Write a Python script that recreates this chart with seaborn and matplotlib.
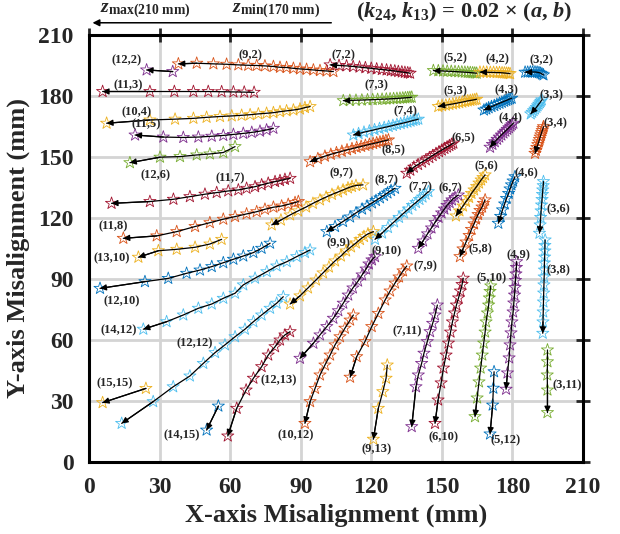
import matplotlib
matplotlib.use("Agg")
import matplotlib.pyplot as plt
import seaborn as sns
import pandas as pd

# MATLAB-style line colours used for the trajectories
BLUE, ORANGE, YELLOW, PURPLE = "#0072BD", "#D95319", "#EDB120", "#7E2F8E"
GREEN, CYAN, CRIMSON = "#77AC30", "#4DBEEE", "#A2142F"

# Misalignment paths (mm) for (k24, k13) = 0.02 x (a, b); first point is z = 170 mm, last is z = 210 mm
X12_2 = [35.6, 24.5]
Y12_2 = [192.0, 192.8]
X9_2 = [103.9, 101.0, 98.2, 95.4, 92.5, 89.7, 86.9, 84.0, 81.2, 78.4, 74.8, 71.3, 67.7, 63.5, 58.5, 52.9, 45.8, 38.0]
Y9_2 = [192.0, 192.3, 192.5, 192.8, 193.1, 193.3, 193.6, 194.0, 194.1, 194.5, 194.8, 195.0, 195.1, 195.3, 195.6, 195.8, 196.1, 195.8]
X7_2 = [136.5, 135.5, 134.3, 133.0, 131.5, 130.0, 128.3, 126.5, 124.5, 122.3, 120.0, 117.5, 115.0, 112.3, 109.5, 106.3, 102.5]
Y7_2 = [191.2, 191.4, 191.6, 191.8, 192.0, 192.3, 192.5, 192.8, 193.0, 193.3, 193.6, 193.9, 194.2, 194.5, 194.8, 195.0, 195.3]
X5_2 = [164.8, 164.0, 163.1, 162.1, 161.0, 159.8, 158.5, 157.1, 155.6, 154.0, 152.3, 150.5, 148.5, 146.4]
Y5_2 = [191.2, 191.3, 191.4, 191.5, 191.6, 191.7, 191.8, 191.9, 192.0, 192.1, 192.2, 192.3, 192.4, 192.5]
X4_2 = [179.0, 178.3, 177.5, 176.6, 175.6, 174.5, 173.3, 172.0, 170.6, 169.1, 167.7, 166.2]
Y4_2 = [191.0, 191.1, 191.2, 191.3, 191.4, 191.5, 191.5, 191.6, 191.6, 191.7, 191.7, 191.7]
X3_2 = [193.2, 192.6, 192.0, 191.3, 190.5, 189.6, 188.6, 187.6, 186.5, 185.4]
Y3_2 = [190.4, 190.8, 191.2, 191.5, 191.7, 191.8, 191.8, 191.8, 191.7, 191.7]

X11_3 = [70.2, 66.0, 61.4, 56.4, 50.7, 44.4, 36.3, 25.9, 5.8]
Y11_3 = [181.8, 181.9, 182.0, 182.1, 182.2, 182.2, 182.2, 182.2, 182.2]
X7_3 = [137.2, 136.4, 135.5, 134.5, 133.4, 132.2, 130.9, 129.5, 128.0, 126.4, 124.6, 122.7, 120.6, 118.4, 116.0, 113.5, 110.9, 108.1]
Y7_3 = [179.4, 179.3, 179.2, 179.1, 179.0, 178.9, 178.8, 178.7, 178.6, 178.5, 178.4, 178.3, 178.2, 178.1, 178.0, 177.9, 177.8, 177.7]
X5_3 = [164.8, 164.0, 163.1, 162.1, 161.0, 159.9, 158.7, 157.4, 156.1, 154.7, 153.2, 151.7, 150.1, 148.5]
Y5_3 = [178.4, 178.2, 178.0, 177.8, 177.6, 177.3, 177.0, 176.7, 176.4, 176.1, 175.8, 175.5, 175.2, 174.8]
X4_3 = [179.7, 179.0, 178.2, 177.4, 176.5, 175.5, 174.5, 173.4, 172.3, 171.1, 169.9, 168.9, 167.9]
Y4_3 = [178.9, 178.6, 178.2, 177.8, 177.4, 176.9, 176.4, 175.9, 175.3, 174.8, 174.2, 173.6, 173.1]
X3_3 = [192.5, 192.1, 191.7, 191.2, 190.7, 190.2, 189.6, 189.0, 188.4, 187.8]
Y3_3 = [178.1, 177.4, 176.7, 176.0, 175.2, 174.4, 173.6, 172.8, 172.0, 171.2]

X10_4 = [94.0, 91.8, 89.7, 86.9, 84.0, 81.2, 78.4, 75.5, 72.0, 68.5, 64.9, 60.7, 55.7, 50.0, 44.4, 36.6, 25.9, 7.5]
Y10_4 = [174.8, 174.3, 173.6, 173.1, 172.7, 172.3, 171.8, 171.5, 171.2, 170.8, 170.5, 170.2, 169.9, 169.5, 169.0, 168.6, 168.2, 166.6]
X7_4 = [140.0, 139.0, 137.9, 136.7, 135.4, 134.0, 132.5, 130.9, 129.2, 127.4, 125.5, 123.5, 121.4, 119.2, 116.9, 114.6, 112.4]
Y7_4 = [168.6, 168.3, 168.0, 167.6, 167.2, 166.8, 166.4, 166.0, 165.5, 165.0, 164.5, 164.0, 163.4, 162.8, 162.2, 161.5, 160.8]
X4_4 = [180.4, 179.8, 179.2, 178.5, 177.8, 177.0, 176.2, 175.3, 174.4, 173.5, 172.5, 171.5, 170.5]
Y4_4 = [166.6, 165.9, 165.2, 164.4, 163.6, 162.7, 161.8, 160.8, 159.8, 158.7, 157.5, 156.2, 154.8]
X3_4 = [193.2, 193.0, 192.7, 192.4, 192.1, 191.8, 191.5, 191.2, 190.8, 190.4, 190.0, 189.6]
Y3_4 = [164.9, 164.0, 163.0, 162.0, 160.9, 159.8, 158.6, 157.4, 156.1, 154.7, 153.3, 151.8]

X11_5 = [78.4, 75.5, 72.7, 69.2, 65.6, 61.4, 57.1, 52.2, 46.5, 40.1, 31.6, 19.6]
Y11_5 = [164.1, 163.3, 162.7, 162.1, 161.6, 161.1, 160.6, 160.2, 159.8, 159.6, 159.8, 160.8]
X8_5 = [127.3, 126.2, 125.0, 123.7, 122.3, 120.8, 119.2, 117.5, 115.7, 113.8, 111.8, 109.7, 107.5, 105.2, 102.8, 100.3, 97.3, 94.0]
Y8_5 = [158.4, 158.1, 157.8, 157.4, 157.0, 156.6, 156.2, 155.7, 155.2, 154.7, 154.1, 153.5, 152.8, 152.1, 151.3, 150.4, 149.2, 147.7]
X6_5 = [154.9, 154.1, 153.2, 152.2, 151.1, 150.0, 148.8, 147.5, 146.1, 144.7, 143.2, 141.6, 139.9, 138.1, 136.6, 135.1]
Y6_5 = [156.8, 156.2, 155.6, 154.9, 154.2, 153.4, 152.6, 151.7, 150.7, 149.7, 148.6, 147.5, 146.3, 145.0, 143.5, 142.0]

X12_6 = [62.1, 57.1, 51.4, 45.8, 38.7, 30.2, 17.4]
Y12_6 = [155.1, 152.2, 151.5, 151.0, 150.2, 149.9, 147.2]
X5_6 = [168.4, 167.5, 166.7, 165.8, 164.8, 163.7, 162.6, 161.6, 160.3, 159.0, 157.5, 156.0]
Y5_6 = [141.2, 139.9, 138.7, 137.2, 135.5, 133.8, 132.1, 130.1, 128.1, 125.9, 123.5, 121.0]
X4_6 = [181.1, 180.3, 179.6, 179.0, 178.4, 177.5, 176.7, 175.8, 175.0, 174.0]
Y4_6 = [140.3, 138.2, 136.3, 134.3, 132.1, 129.6, 126.9, 124.0, 120.8, 117.4]
X3_6 = [193.2, 193.1, 192.9, 192.8, 192.6, 192.4, 192.2, 192.0, 191.8, 191.5]
Y3_6 = [137.9, 135.9, 133.8, 131.6, 129.1, 126.4, 123.5, 120.3, 116.6, 112.5]

X11_7 = [85.5, 83.3, 81.2, 79.1, 76.2, 73.4, 70.6, 67.0, 63.5, 59.2, 54.3, 49.3, 42.9, 35.9, 25.9, 9.6]
Y11_7 = [139.5, 139.0, 138.4, 137.9, 137.1, 136.3, 135.4, 134.6, 133.8, 133.3, 132.5, 131.7, 130.5, 129.2, 128.1, 127.2]
X9_7 = [116.5, 113.5, 111.8, 110.1, 108.0, 105.9, 103.3, 100.8, 98.2, 95.2, 92.3, 88.9, 85.5, 81.6, 77.7]
Y9_7 = [136.3, 136.0, 135.5, 134.8, 133.8, 132.8, 131.6, 130.3, 128.9, 127.2, 125.4, 123.5, 121.5, 119.0, 116.6]
X8_7 = [130.1, 128.4, 126.9, 125.4, 123.7, 122.0, 120.3, 118.2, 116.1, 113.5, 111.0, 108.0, 104.6, 101.1]
Y8_7 = [134.6, 133.5, 132.3, 131.1, 129.9, 128.6, 127.4, 125.9, 124.4, 122.5, 120.5, 118.3, 115.8, 113.3]
X7_7 = [144.3, 143.1, 141.8, 140.5, 139.0, 137.5, 135.8, 133.9, 131.8, 129.7, 127.1, 124.6, 121.6]
Y7_7 = [133.0, 131.7, 130.3, 129.1, 127.6, 126.2, 124.4, 122.5, 120.3, 118.1, 115.3, 112.6, 109.5]
X6_7 = [157.0, 155.6, 154.3, 153.3, 152.2, 151.1, 149.9, 148.6, 147.1, 145.6, 143.9, 142.0, 140.0]
Y6_7 = [131.3, 130.1, 128.9, 127.6, 126.2, 124.4, 122.5, 120.3, 117.8, 115.1, 112.2, 108.7, 105.1]

X11_8 = [89.0, 87.6, 84.7, 81.9, 78.4, 74.8, 71.3, 67.0, 62.1, 57.1, 51.4, 45.1, 37.3, 28.8, 14.6]
Y11_8 = [128.1, 127.6, 126.7, 125.9, 125.3, 124.3, 123.1, 122.0, 120.7, 119.4, 117.7, 115.8, 113.3, 111.2, 110.0]
X5_8 = [168.4, 167.7, 167.1, 166.2, 165.4, 164.5, 163.7, 162.6, 161.6, 160.3, 159.0, 157.7]
Y5_8 = [128.9, 127.2, 125.4, 123.7, 121.7, 119.5, 117.1, 114.4, 111.4, 108.2, 104.8, 101.0]
X3_8 = [193.9, 193.8, 193.8, 193.7, 193.6, 193.6, 193.5, 193.4, 193.3, 193.2, 193.1, 193.0, 192.9]
Y3_8 = [109.2, 106.5, 103.8, 100.8, 97.9, 94.4, 91.0, 87.1, 83.1, 78.7, 73.8, 68.9, 63.3]

X9_9 = [120.9, 118.6, 116.9, 115.2, 113.5, 111.4, 109.3, 107.1, 104.6, 102.0, 99.5, 96.5, 93.1, 89.7, 85.5]
Y9_9 = [113.3, 112.2, 110.9, 109.4, 107.7, 105.8, 103.8, 101.3, 98.9, 95.9, 93.0, 89.5, 85.6, 81.7, 77.7]
X7_9 = [135.1, 133.5, 131.8, 130.1, 128.0, 125.9, 123.0, 120.2, 117.3, 113.8, 111.0]
Y7_9 = [96.4, 94.0, 91.0, 88.0, 84.1, 79.7, 73.1, 66.6, 59.2, 51.8, 41.7]
X4_9 = [181.8, 181.7, 181.5, 181.3, 181.1, 180.9, 180.6, 180.3, 179.8, 179.4, 179.0, 178.6, 177.9, 177.3]
Y4_9 = [98.5, 95.7, 92.5, 89.3, 85.8, 82.1, 78.2, 73.8, 68.9, 63.5, 57.6, 51.2, 43.8, 35.8]

X13_10 = [56.4, 51.4, 45.1, 37.3, 29.5, 21.0]
Y13_10 = [109.5, 107.2, 105.6, 104.6, 103.9, 100.7]
X12_10 = [77.0, 73.4, 69.9, 65.6, 61.4, 57.1, 52.2, 47.2, 41.5, 33.7, 23.8, 4.7]
Y12_10 = [107.6, 105.1, 103.0, 101.3, 99.7, 98.0, 96.1, 94.4, 92.8, 90.3, 88.7, 85.4]
X9_10 = [121.6, 120.3, 119.0, 117.8, 116.1, 114.4, 112.2, 110.2, 108.1, 106.0, 103.9, 101.1, 98.2, 95.4, 89.7]
Y9_10 = [101.0, 99.4, 97.4, 94.9, 92.0, 89.0, 85.6, 82.1, 78.1, 74.4, 70.7, 66.6, 62.5, 58.4, 51.0]
X6_10 = [159.1, 158.6, 157.9, 157.1, 156.2, 155.4, 154.5, 153.7, 152.8, 151.8, 150.7, 149.7, 148.4, 147.1]
Y6_10 = [90.4, 87.3, 84.1, 80.7, 77.2, 73.3, 68.9, 63.9, 58.5, 52.6, 46.2, 38.9, 30.5, 19.0]
X5_10 = [170.8, 170.5, 170.2, 169.9, 169.4, 168.8, 168.4, 167.8, 167.2, 166.5, 165.8, 165.0, 164.1]
Y5_10 = [86.6, 83.9, 80.7, 77.2, 73.3, 68.9, 63.9, 58.5, 52.6, 46.2, 39.4, 31.5, 22.3]

X7_11 = [148.1, 147.1, 146.1, 145.0, 143.8, 142.4, 141.4, 140.0, 139.0, 137.2]
Y7_11 = [77.2, 72.3, 68.2, 64.1, 59.2, 53.5, 48.5, 42.8, 37.0, 17.4]
X3_11 = [194.9, 194.9, 194.8, 194.9, 194.9]
Y3_11 = [55.1, 49.3, 42.8, 35.4, 24.3]

X14_12 = [94.0, 91.8, 88.3, 84.1, 79.8, 75.6, 70.6, 65.6, 62.1, 57.1, 52.2, 46.5, 40.1, 33.0, 23.1]
Y14_12 = [104.3, 103.0, 101.0, 98.5, 96.4, 93.6, 90.4, 87.1, 83.0, 80.5, 77.7, 75.6, 72.3, 69.0, 65.3]
X12_12 = [82.6, 79.8, 77.0, 73.4, 69.9, 66.3, 62.1, 57.8, 53.6, 48.6, 42.9, 35.8, 27.3, 13.9]
Y12_12 = [81.3, 78.1, 75.6, 72.3, 69.0, 65.3, 61.6, 57.6, 53.8, 48.5, 42.3, 37.0, 29.7, 19.0]
X10_12 = [112.4, 111.0, 108.8, 106.7, 104.6, 102.5, 100.3, 98.2, 96.1, 94.0, 91.8]
Y10_12 = [72.3, 69.8, 65.8, 61.6, 57.6, 52.6, 47.7, 42.8, 36.2, 29.7, 19.0]
X5_12 = [172.2, 171.9, 171.6, 170.5]
Y5_12 = [44.4, 36.3, 28.0, 13.8]

X12_13 = [85.5, 83.3, 81.2, 79.1, 76.2, 73.4, 69.9, 66.8, 62.8, 59.0]
Y12_13 = [64.1, 62.5, 60.0, 56.7, 52.6, 46.9, 41.2, 35.4, 26.4, 12.8]
X9_13 = [126.8, 126.3, 124.9, 123.0, 120.9]
Y9_13 = [47.7, 41.2, 34.6, 26.4, 11.2]

X14_15 = [55.0, 50.0]
Y14_15 = [27.5, 15.7]
X15_15 = [24.2, 5.8]
Y15_15 = [36.2, 29.2]

TICKS = [0, 30, 60, 90, 120, 150, 180, 210]

# (label, x, y, colour, label anchor in mm)
paths = [
    ("(12,2)", X12_2, Y12_2, PURPLE, (16.0, 197.7)),
    ("(9,2)", X9_2, Y9_2, ORANGE, (68.5, 200.2)),
    ("(7,2)", X7_2, Y7_2, CRIMSON, (108.0, 200.2)),
    ("(5,2)", X5_2, Y5_2, GREEN, (155.6, 198.7)),
    ("(4,2)", X4_2, Y4_2, YELLOW, (173.5, 198.2)),
    ("(3,2)", X3_2, Y3_2, BLUE, (192.5, 197.4)),
    ("(11,3)", X11_3, Y11_3, CRIMSON, (16.7, 185.4)),
    ("(7,3)", X7_3, Y7_3, GREEN, (122.3, 185.1)),
    ("(5,3)", X5_3, Y5_3, YELLOW, (155.6, 182.1)),
    ("(4,3)", X4_3, Y4_3, BLUE, (177.6, 182.6)),
    ("(3,3)", X3_3, Y3_3, CYAN, (196.7, 180.5)),
    ("(10,4)", X10_4, Y10_4, YELLOW, (20.3, 171.8)),
    ("(7,4)", X7_4, Y7_4, CYAN, (134.4, 172.3)),
    ("(4,4)", X4_4, Y4_4, PURPLE, (179.0, 169.1)),
    ("(3,4)", X3_4, Y3_4, ORANGE, (198.1, 166.6)),
    ("(11,5)", X11_5, Y11_5, PURPLE, (24.3, 166.0)),
    ("(8,5)", X8_5, Y8_5, ORANGE, (129.4, 153.5)),
    ("(6,5)", X6_5, Y6_5, CRIMSON, (159.1, 159.2)),
    ("(12,6)", X12_6, Y12_6, GREEN, (28.1, 141.2)),
    ("(5,6)", X5_6, Y5_6, YELLOW, (169.1, 145.3)),
    ("(4,6)", X4_6, Y4_6, BLUE, (185.8, 142.0)),
    ("(3,6)", X3_6, Y3_6, CYAN, (199.5, 124.3)),
    ("(11,7)", X11_7, Y11_7, CRIMSON, (59.9, 139.5)),
    ("(9,7)", X9_7, Y9_7, YELLOW, (107.4, 142.0)),
    ("(8,7)", X8_7, Y8_7, BLUE, (126.6, 138.4)),
    ("(7,7)", X7_7, Y7_7, CYAN, (140.7, 135.1)),
    ("(6,7)", X6_7, Y6_7, PURPLE, (153.5, 134.6)),
    ("(11,8)", X11_8, Y11_8, ORANGE, (10.3, 116.1)),
    ("(5,8)", X5_8, Y5_8, ORANGE, (166.2, 104.6)),
    ("(3,8)", X3_8, Y3_8, CYAN, (199.5, 94.4)),
    ("(9,9)", X9_9, Y9_9, YELLOW, (106.0, 107.6)),
    ("(7,9)", X7_9, Y7_9, ORANGE, (142.9, 96.1)),
    ("(4,9)", X4_9, Y4_9, PURPLE, (182.5, 101.8)),
    ("(13,10)", X13_10, Y13_10, YELLOW, (9.7, 100.2)),
    ("(12,10)", X12_10, Y12_10, BLUE, (13.9, 78.8)),
    ("(9,10)", X9_10, Y9_10, PURPLE, (126.6, 103.4)),
    ("(6,10)", X6_10, Y6_10, CRIMSON, (150.6, 12.4)),
    ("(5,10)", X5_10, Y5_10, GREEN, (171.2, 90.4)),
    ("(7,11)", X7_11, Y7_11, PURPLE, (135.1, 64.1)),
    ("(3,11)", X3_11, Y3_11, GREEN, (203.1, 37.9)),
    ("(14,12)", X14_12, Y14_12, CYAN, (12.5, 64.6)),
    ("(12,12)", X12_12, Y12_12, CYAN, (45.1, 58.4)),
    ("(10,12)", X10_12, Y10_12, ORANGE, (88.0, 13.3)),
    ("(5,12)", X5_12, Y5_12, BLUE, (176.9, 10.5)),
    ("(12,13)", X12_13, Y12_13, CRIMSON, (80.5, 40.0)),
    ("(9,13)", X9_13, Y9_13, YELLOW, (122.3, 6.2)),
    ("(14,15)", X14_15, Y14_15, BLUE, (39.4, 13.3)),
    ("(15,15)", X15_15, Y15_15, YELLOW, (11.1, 38.7)),
]

sns.set_style("white")
plt.rcParams.update({
    "font.family": ["Liberation Serif", "DejaVu Serif"],
    "font.weight": "bold",
    "axes.labelweight": "bold",
    "mathtext.fontset": "custom",
    "mathtext.rm": "Liberation Serif:bold",
    "mathtext.it": "Liberation Serif:italic:bold",
    "mathtext.bf": "Liberation Serif:bold",
})

fig = plt.figure(figsize=(6.2, 5.34), dpi=100)
ax = fig.add_axes([0.1435, 0.1348, 0.7968, 0.7997])

for name, xs, ys, col, (lx, ly) in paths:
    df = pd.DataFrame({"x": xs, "y": ys})
    sns.scatterplot(data=df, x="x", y="y", marker="*", s=85, facecolors="none",
                    edgecolor=col, linewidth=0.6, ax=ax, zorder=3, legend=False)
    sns.lineplot(data=df, x="x", y="y", sort=False, estimator=None, color="black",
                 lw=0.9, ax=ax, zorder=4, legend=False)
    ax.annotate("", xy=(xs[-1], ys[-1]), xytext=(xs[-2], ys[-2]),
                arrowprops=dict(arrowstyle="-|>", color="black", lw=0.9,
                                mutation_scale=9, shrinkA=0, shrinkB=0),
                zorder=5)
    ax.text(lx, ly, name, fontsize=9, fontweight="bold", ha="center", va="center", zorder=6)

ax.set_xlim(0, 210)
ax.set_ylim(0, 210)
ax.set_xticks(TICKS)
ax.set_yticks(TICKS)
ax.grid(True, color="#d4d4d4", lw=2)
ax.set_axisbelow(True)
for sp in ax.spines.values():
    sp.set_linewidth(2.2)
    sp.set_color("black")
ax.tick_params(direction="inout", length=10, width=2, top=True, right=True,
               labelsize=17, pad=6)
for lab in ax.get_xticklabels() + ax.get_yticklabels():
    lab.set_fontweight("bold")
ax.set_xlabel("X-axis Misalignment (mm)", fontsize=19, fontweight="bold", labelpad=4)
ax.set_ylabel("Y-axis Misalignment (mm)", fontsize=19, fontweight="bold", labelpad=6)

# direction of increasing z above the plot
ax.annotate("", xy=(1.5, 216.0), xytext=(103.0, 216.0), annotation_clip=False,
            arrowprops=dict(arrowstyle="-|>", color="black", lw=1.1, mutation_scale=10,
                            shrinkA=0, shrinkB=0))
ax.text(4.5, 217.5, r"$z_{\mathrm{max(210\ mm)}}$", fontsize=14, ha="left", va="bottom", clip_on=False)
ax.text(61.0, 217.5, r"$z_{\mathrm{min(170\ mm)}}$", fontsize=14, ha="left", va="bottom", clip_on=False)
ax.text(113.5, 215.5, r"$(k_{24}$, $k_{13})$ = 0.02 × $(a$, $b)$", fontsize=16,
        fontweight="bold", ha="left", va="bottom", clip_on=False)

fig.savefig("out.png", dpi=100)
